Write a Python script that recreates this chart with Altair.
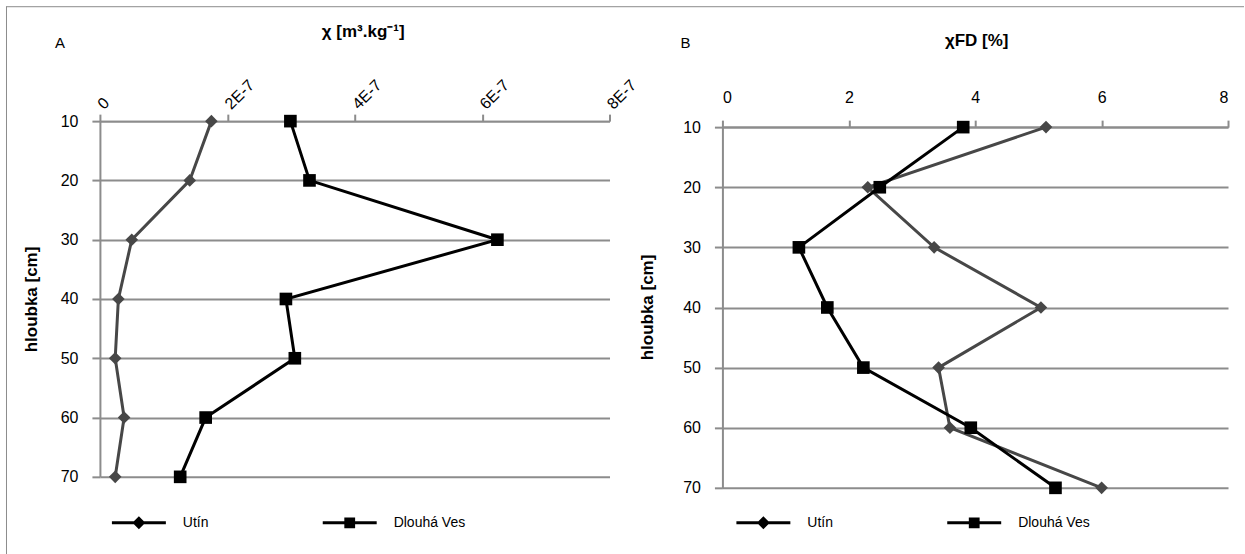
import altair as alt
import pandas as pd

# ---- data ----
depth = [10, 20, 30, 40, 50, 60, 70]
series = ["Utín", "Dlouhá Ves"]
chi_utin = [1.75e-7, 1.41e-7, 0.50e-7, 0.29e-7, 0.24e-7, 0.38e-7, 0.24e-7]
chi_dv = [2.99e-7, 3.29e-7, 6.24e-7, 2.92e-7, 3.06e-7, 1.66e-7, 1.26e-7]
fd_utin = [5.12, 2.30, 3.35, 5.04, 3.42, 3.60, 6.00]
fd_dv = [3.81, 2.49, 1.21, 1.66, 2.23, 3.93, 5.27]
chi_ticks = [0, 2e-7, 4e-7, 6e-7, 8e-7]
fd_ticks = [0, 2, 4, 6, 8]

FONT = "Liberation Sans, Arial, sans-serif"
GRID = "#8c8c8c"
COLORS = ["#474747", "#000000"]

dfA = pd.DataFrame({"depth": depth * 2, "value": chi_utin + chi_dv,
                    "series": [series[0]] * 7 + [series[1]] * 7})
dfA["marker"] = dfA["series"]
dfB = pd.DataFrame({"depth": depth * 2, "value": fd_utin + fd_dv,
                    "series": [series[0]] * 7 + [series[1]] * 7})
dfB["marker"] = dfB["series"]
dummy = pd.DataFrame({"k": [0]})

P_DIAMOND = "M-1,-0.055L1,-0.055L1,0.055L-1,0.055Z M0,-0.24L0.24,0L0,0.24L-0.24,0Z"
P_SQUARE = "M-1,-0.055L1,-0.055L1,0.055L-1,0.055Z M-0.2,-0.2L0.2,-0.2L0.2,0.2L-0.2,0.2Z"


def make_legend(lx, ly):
    return alt.Legend(orient="none", legendX=lx, legendY=ly, direction="horizontal",
                      title=None, symbolSize=2916, labelOffset=17, columnPadding=114,
                      labelFont=FONT, labelFontSize=14, labelColor="#000000", padding=0,
                      symbolOpacity=1, symbolStrokeWidth=0)


def panel(df, xenc, yenc, lx, ly, letter, lxpos):
    line = alt.Chart(df).mark_line(strokeWidth=3).encode(
        x=xenc, y=yenc,
        stroke=alt.Stroke("series:N", scale=alt.Scale(domain=series, range=COLORS), legend=None),
        order=alt.Order("depth:Q"))
    pts = alt.Chart(df).mark_point(filled=True, opacity=1, size=160, strokeWidth=0).encode(
        x=xenc, y=yenc,
        fill=alt.Fill("series:N", scale=alt.Scale(domain=series, range=COLORS), legend=None),
        shape=alt.Shape("marker:N", scale=alt.Scale(domain=series, range=["diamond", "square"]),
                        legend=None))
    leg = alt.Chart(df).mark_point(filled=True, opacity=1, size=0).encode(
        x=xenc, y=yenc,
        color=alt.Color("series:N", scale=alt.Scale(domain=series, range=COLORS),
                        legend=make_legend(lx, ly)),
        shape=alt.Shape("series:N", scale=alt.Scale(domain=series, range=[P_DIAMOND, P_SQUARE]),
                        legend=make_legend(lx, ly)))
    txt = alt.Chart(dummy).mark_text(text=letter, font=FONT, fontSize=15, align="center",
                                     baseline="middle", color="#000").encode(
        x=alt.value(lxpos), y=alt.value(-78))
    return line, pts, leg, txt


# ---- panel A ----
xA = alt.X("value:Q", scale=alt.Scale(domain=[0, 8e-7], nice=False, zero=False),
           axis=alt.Axis(orient="top", values=chi_ticks,
                         labelExpr="datum.value == 0 ? '0' : round(datum.value*1e7) + 'E-7'",
                         labelAngle=-45, labelAlign="left", labelBaseline="middle",
                         grid=False, domainColor=GRID, domainWidth=2, tickColor=GRID,
                         tickWidth=2, tickSize=7, labelPadding=8,
                         title="χ [m³.kg⁻¹]", titleFontWeight="bold", titleY=-90, titleX=263,
                         titleBaseline="middle", titleAlign="center"))
yA = alt.Y("depth:Q", scale=alt.Scale(domain=[10, 70], reverse=True, nice=False, zero=False),
           axis=alt.Axis(values=depth, grid=True, gridColor=GRID, gridWidth=2,
                         domainColor=GRID, domainWidth=2, tickColor=GRID, tickWidth=2,
                         tickSize=8, labelPadding=14, title="hloubka [cm]",
                         titleFontWeight="bold", titleX=-68, titleY=178, titleAngle=-90,
                         titleBaseline="middle", titleAlign="center"))
lineA, ptsA, legA, txtA = panel(dfA, xA, yA, 12, 375, "A", -40)
frame_left = alt.Chart(dummy).mark_rule(color="#8c8c8c", strokeWidth=1).encode(
    x=alt.value(-93.5), y=alt.value(-115), y2=alt.value(434))
frame_top = alt.Chart(dummy).mark_rule(color="#8c8c8c", strokeWidth=1).encode(
    x=alt.value(-93.5), x2=alt.value(1145), y=alt.value(-114.5))
chartA = (alt.layer(lineA, ptsA, legA, txtA, frame_left, frame_top)
          .resolve_scale(shape="independent")
          .properties(width=510, height=356))

# ---- panel B ----
xB = alt.X("value:Q", scale=alt.Scale(domain=[0, 8], nice=False, zero=False),
           axis=alt.Axis(orient="top", values=fd_ticks, offset=-6,
                         grid=False, domainColor=GRID, domainWidth=2, tickColor=GRID,
                         tickWidth=2, tickSize=7, labelPadding=15,
                         title="χFD [%]", titleFontWeight="bold", titleY=-87, titleX=254,
                         titleBaseline="middle", titleAlign="center"))
yB = alt.Y("depth:Q", scale=alt.Scale(domain=[10, 70], range=[6, 367], nice=False, zero=False),
           axis=alt.Axis(values=depth, grid=True, gridColor=GRID, gridWidth=2,
                         domainColor=GRID, domainWidth=2, tickColor=GRID, tickWidth=2,
                         tickSize=8, labelPadding=14, title="hloubka [cm]",
                         titleFontWeight="bold", titleX=-75, titleY=186, titleAngle=-90,
                         titleBaseline="middle", titleAlign="center"))
lineB, ptsB, legB, txtB = panel(dfB, xB, yB, 14, 375, "B", -37)
chartB = (alt.layer(lineB, ptsB, legB, txtB)
          .resolve_scale(shape="independent")
          .properties(width=506, height=367))

chart = (
    alt.hconcat(chartA, chartB, spacing=113)
    .resolve_scale(color="independent", shape="independent", fill="independent",
                   stroke="independent")
    .resolve_legend(color="independent", shape="independent")
    .properties(bounds="flush", padding={"left": 6, "top": 5, "right": 0, "bottom": 0},
                background="white")
    .configure_view(stroke=None)
    .configure_axis(labelFont=FONT, titleFont=FONT, labelFontSize=16, titleFontSize=17,
                    labelColor="#000000", titleColor="#000000")
)

chart.save("out.html", embed_options={"renderer": "svg", "actions": False})
